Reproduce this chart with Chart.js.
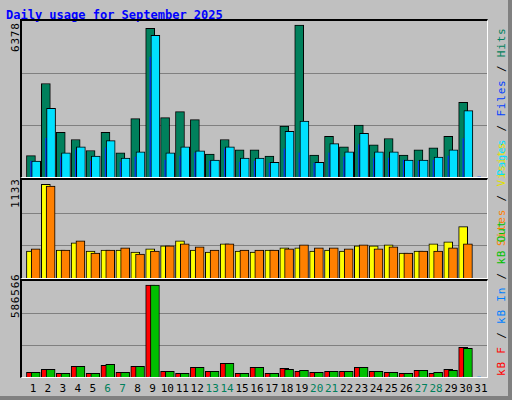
<!DOCTYPE html>
<html>
<head>
<meta charset="utf-8">
<script src="https://cdn.jsdelivr.net/npm/chart.js@4"></script>
<style>
  body { margin: 0; background: #fff; }
  #frame { position: absolute; left: 0; top: 0; width: 508px; height: 396px; background: #c0c0c0;
           border-right: 4px solid #808080; border-bottom: 4px solid #808080; }
  .panel { position: absolute; left: 20px; width: 468px; box-sizing: border-box;
           border-top: 2px solid #000; border-left: 2px solid #000; border-right: 1px solid #fff; border-bottom: 1px solid #fff; }
  .panel canvas { position: absolute; left: 0; top: 0; }
  .txt { position: absolute; font-family: "DejaVu Sans Mono", monospace; font-size: 11px; white-space: nowrap; }
  .rot { transform-origin: 0 0; transform: rotate(-90deg); letter-spacing: 0.8px; }
  #title { left: 6px; top: 8px; color: #0000ff; font-weight: bold; font-size: 12px; }
</style>
</head>
<body>
<div id="frame">
  <div class="txt" id="title">Daily usage for September 2025</div>
  <div class="panel" style="top:19px;height:159px"><canvas id="c1"></canvas></div>
  <div class="panel" style="top:178px;height:101px"><canvas id="c2"></canvas></div>
  <div class="panel" style="top:279px;height:99px"><canvas id="c3"></canvas></div>
  <div class="txt rot" style="left:9px;top:52px">6378</div>
  <div class="txt rot" style="left:9px;top:208px">1133</div>
  <div class="txt rot" style="left:9px;top:318px">586566</div>
  <div class="txt rot" style="left:495px;top:176px"><span style="color:#00e0ff">Pages</span> / <span style="color:#0040ff">Files</span> / <span style="color:#00805c">Hits</span></div>
  <div class="txt rot" style="left:495px;top:246px"><span style="color:#ff8000">Sites</span> / <span style="color:#e0e000">Visits</span></div>
  <div class="txt rot" style="left:495px;top:376px"><span style="color:#ff0000">kB F</span> / <span style="color:#0080ff">kB In</span> / <span style="color:#00c000">kB Out</span></div>
  <div id="labels"></div>
</div>
<script>
const days = Array.from({ length: 31 }, (_, i) => i + 1);
const weekends = [6, 7, 13, 14, 20, 21, 27, 28];

const hits   = [895,3925,1876,1573,1111,1876,1010,2453,6248,2496,2742,2410,967,1573,1140,1140,880,2136,6378,924,1703,1270,2179,1356,1616,924,1140,1227,1703,3131,0];
const files  = [664,2886,1010,1270,880,1530,794,1053,5945,1010,1270,1097,707,1270,794,794,620,1919,2352,620,1400,1053,1833,1053,1053,707,707,837,1140,2785,0];
const pages  = [664,1631,837,1140,664,1227,620,837,5036,707,880,1010,664,1183,620,664,577,1183,1010,577,1010,837,1356,794,794,707,664,707,880,1616,0];
const visits = [327,1133,339,425,327,339,339,315,352,389,450,339,315,413,327,315,339,364,364,327,339,327,389,389,401,303,327,413,438,622,0];
const sites  = [352,1112,339,450,303,339,364,290,327,389,413,376,339,413,339,339,339,352,401,364,364,352,401,352,376,303,327,327,364,413,0];
const kbF    = [29900,49100,23500,68300,23500,74700,29900,68300,586566,36300,23500,61900,36300,87500,23500,61900,23500,55500,36300,29900,36300,36300,61900,36300,29900,23500,42700,23500,49100,189800,0];
const kbIn   = [2100,2100,2100,2100,2100,2100,2100,2100,4300,2100,2100,2100,2100,2100,2100,2100,2100,2100,2100,2100,2100,2100,2100,2100,2100,2100,2100,2100,2100,4300,0];
const kbOut  = [29900,49100,23500,68300,23500,81100,29900,68300,586566,36300,23500,61900,36300,87500,23500,61900,23500,49100,42700,29900,36300,36300,61900,36300,29900,23500,42700,29900,42700,183400,0];

const gridPlugin = {
    id: 'thirds',
    beforeDatasetsDraw(chart) {
        const { ctx, chartArea, scales } = chart;
        const m = scales.y.max;
        ctx.save();
        ctx.strokeStyle = '#808080';
        ctx.lineWidth = 1;
        [m / 3, 2 * m / 3].forEach(v => {
            const y = Math.round(scales.y.getPixelForValue(v)) + 0.5;
            ctx.beginPath();
            ctx.moveTo(chartArea.left, y);
            ctx.lineTo(chartArea.right, y);
            ctx.stroke();
        });
        ctx.restore();
    }
};

function series(values, offset, color, width, order) {
    return {
        data: values.map((v, i) => ({ x: days[i] + offset, y: v })),
        backgroundColor: color,
        borderColor: '#000',
        borderWidth: width > 3 ? 1 : 0,
        barThickness: width,
        grouped: false,
        order: order
    };
}

function makeChart(id, w, h, max, datasets) {
    const canvas = document.getElementById(id);
    canvas.width = w; canvas.height = h;
    canvas.style.width = w + 'px'; canvas.style.height = h + 'px';
    return new Chart(canvas, {
        type: 'bar',
        data: { datasets: datasets },
        options: {
            responsive: false,
            animation: false,
            devicePixelRatio: 1,
            layout: { padding: 0 },
            plugins: { legend: { display: false }, tooltip: { enabled: false } },
            scales: {
                x: { type: 'linear', min: 0.2, max: 31.4, offset: false, display: false },
                y: { min: 0, max: max, display: false }
            }
        },
        plugins: [gridPlugin]
    });
}

makeChart('c1', 465, 156, 6551, [
    series(hits, -0.2, '#00805c', 9, 3),
    series(pages, -0.12, '#0040ff', 3, 2),
    series(files, 0.15, '#00e0ff', 9, 1)
]);
makeChart('c2', 465, 98, 1186, [
    series(visits, -0.2, '#ffff00', 9, 2),
    series(sites, 0.12, '#ff8000', 9, 1)
]);
makeChart('c3', 465, 96, 612000, [
    series(kbF, -0.2, '#ff0000', 9, 3),
    series(kbIn, -0.12, '#0080ff', 3, 2),
    series(kbOut, 0.12, '#00c000', 9, 1)
]);

const labels = document.getElementById('labels');
days.forEach(d => {
    const s = document.createElement('div');
    s.className = 'txt';
    s.textContent = d;
    s.style.top = '382px';
    s.style.fontSize = '11px';
    s.style.width = '20px';
    s.style.textAlign = 'center';
    s.style.left = (33 + (d - 1) * 14.93 - 10) + 'px';
    s.style.color = weekends.includes(d) ? '#00805c' : '#000';
    labels.appendChild(s);
});
</script>
</body>
</html>
